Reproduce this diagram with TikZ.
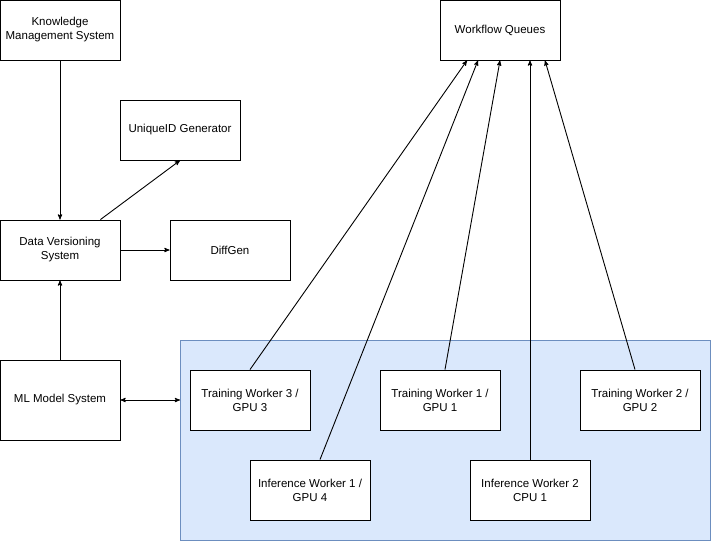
\documentclass[tikz,border=0pt]{standalone}
\usepackage{fontspec}
\setmainfont{Liberation Sans}
\usetikzlibrary{arrows}
\definecolor{boxfill}{HTML}{DAE8FC}
\definecolor{boxline}{HTML}{6C8EBF}
\tikzset{
  box/.style={draw, fill=white, minimum width=120pt, minimum height=60pt, align=center, font=\fontsize{11.5}{14}\selectfont},
  flow/.style={->, >=stealth'}
}
\begin{document}
\begin{tikzpicture}[x=1pt, y=-1pt, line width=0.9pt]
          \useasboundingbox (0,0) rectangle (711,541);
          \draw [fill=boxfill, draw=boxline] (180,340) rectangle (710,540);

          \node[box] (kms) at (60,30) {Knowledge\\Management System};
          \node[box] (uid) at (180,130) {UniqueID Generator};
          \node[box] (dvs) at (60,250) {Data Versioning\\System};
          \node[box] (diff) at (230,250) {DiffGen};
          \node[box, minimum height=80pt] (ml) at (60,400) {ML Model System};
          \node[box] (wq) at (500,30) {Workflow Queues};
          \node[box] (tw3) at (250,400) {Training Worker 3 /\\GPU 3};
          \node[box] (tw1) at (440,400) {Training Worker 1 /\\GPU 1};
          \node[box] (tw2) at (640,400) {Training Worker 2 /\\GPU 2};
          \node[box] (iw1) at (310,490) {Inference Worker 1 /\\GPU 4};
          \node[box] (iw2) at (530,490) {Inference Worker 2\\CPU 1};
          \coordinate (pool) at (180,400);

          \draw [flow] (kms) -- (dvs);
          \draw [flow] (dvs.north east) ++(-20,0) -- (uid.south);
          \draw [flow] (dvs) -- (diff);
          \draw [flow] (ml) -- (dvs);
          \draw [<->, >=stealth'] (ml) -- (pool);

          \draw [flow] (tw3.north) -- ([xshift=-33pt]wq.south);
          \draw [flow] ([xshift=10pt]iw1.north) -- ([xshift=-22pt]wq.south);
          \draw [flow] ([xshift=5pt]tw1.north) -- (wq.south);
          \draw [flow] (iw2.north) -- ([xshift=30pt]wq.south);
          \draw [flow] ([xshift=-5pt]tw2.north) -- ([xshift=45pt]wq.south);
        \end{tikzpicture}
\end{document}
